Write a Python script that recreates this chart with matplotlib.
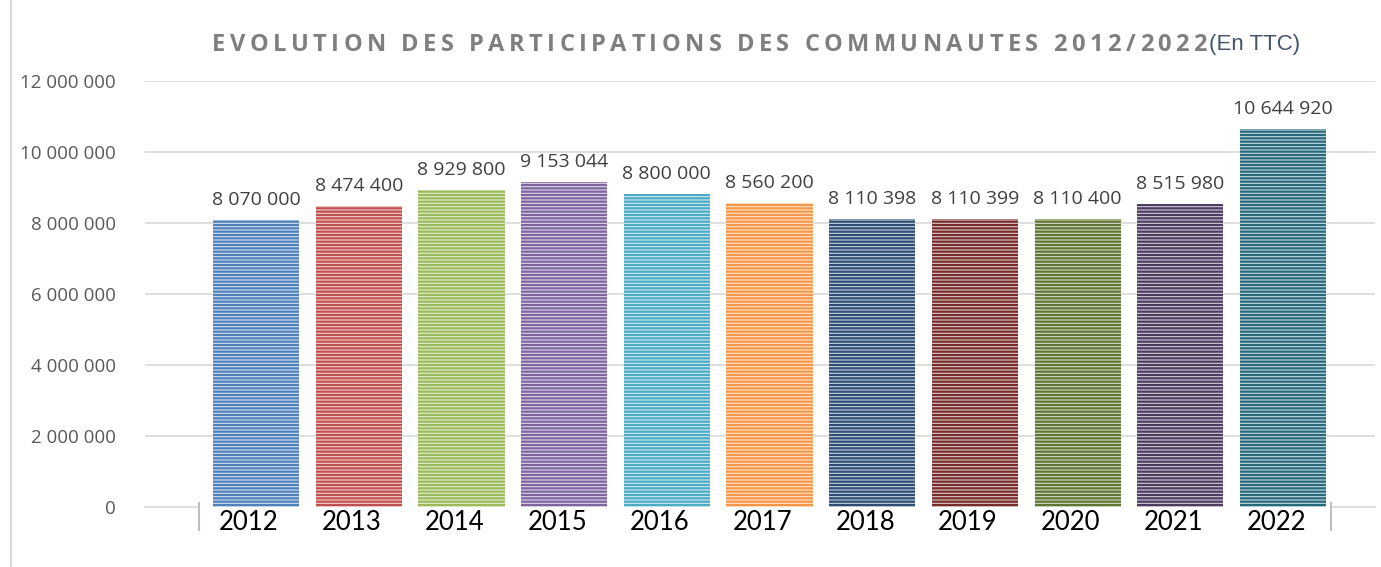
import matplotlib
matplotlib.use("Agg")
import matplotlib.pyplot as plt
import matplotlib.colors as mcolors
import matplotlib.transforms as mtransforms
from matplotlib.lines import Line2D

# data
years = ["2012", "2013", "2014", "2015", "2016", "2017", "2018", "2019", "2020", "2021", "2022"]
values = [8070000, 8474400, 8929800, 9153044, 8800000, 8560200,
          8110398, 8110399, 8110400, 8515980, 10644920]
bar_colors = ["#4F81BD", "#C0504D", "#9BBB59", "#8064A2", "#4BACC6", "#F79646",
              "#2C4D75", "#772C2A", "#5F7530", "#4D3B62", "#276A7C"]
y_ticks = [0, 2000000, 4000000, 6000000, 8000000, 10000000, 12000000]
title = "EVOLUTION DES PARTICIPATIONS DES COMMUNAUTES 2012/2022"


def fmt(v):
    return f"{v:,}".replace(",", " ")


def tint(c, amount=0.74):
    r, g, b = mcolors.to_rgb(c)
    return (r + (1 - r) * amount, g + (1 - g) * amount, b + (1 - b) * amount)


plt.rcParams["hatch.linewidth"] = 1.6
fig = plt.figure(figsize=(13.81, 5.67), dpi=100)
ax = fig.add_axes([0.105, 0.1063, 0.8907, 0.7513])

x = list(range(len(years)))
bars = ax.bar(x, values, width=0.84, color=[tint(c) for c in bar_colors],
              edgecolor=bar_colors, linewidth=0, hatch="-----", zorder=3)

ax.bar_label(bars, labels=[fmt(v) for v in values], padding=8,
             fontsize=14, color="#404040", family="Open Sans")

ax.set_ylim(0, 12000000)
ax.set_xlim(-1.081, 10.896)
ax.set_yticks(y_ticks)
ax.set_yticklabels([fmt(v) for v in y_ticks], fontsize=13.5, color="#595959",
                   family="Open Sans")
ax.tick_params(axis="y", length=0, pad=21)
ax.set_xticks(x)
ax.set_xticklabels(years, fontsize=18.5, color="black", family="Lato")
ax.tick_params(axis="x", length=0, pad=2)
# year labels sit a little left of the bar centres in the reference
shift = mtransforms.ScaledTranslation(-7 / 100, 0, fig.dpi_scale_trans)
for lab in ax.get_xticklabels():
    lab.set_transform(lab.get_transform() + shift)

for v in y_ticks[1:]:
    ax.axhline(v, color="#D9D9D9", lw=1.2, zorder=1)
for side in ax.spines.values():
    side.set_visible(False)

# zero line only outside the category band, with the end ticks
ax.plot([-1.081, -0.56], [0, 0], color="#D9D9D9", lw=1.2, clip_on=False)
ax.plot([10.47, 10.896], [0, 0], color="#D9D9D9", lw=1.2, clip_on=False)
trans = ax.get_xaxis_transform()
for xe in (-0.56, 10.47):
    ax.plot([xe, xe], [0.008, -0.055], color="#BFBFBF", lw=1.5,
            transform=trans, clip_on=False)

# title with wide letter spacing: place each character, spread over a target width
fig.canvas.draw()
renderer = fig.canvas.get_renderer()
W = fig.bbox.width
x_start, x_end, y_title = 212, 1207, 0.921
tsize = 17
chars = []
for ch in title:
    t = fig.text(0, y_title, ch, fontsize=tsize, fontweight="bold",
                 color="#7F7F7F", family="Open Sans", va="center")
    chars.append(t)
widths = []
for t in chars:
    if t.get_text() == " ":
        widths.append(tsize * 0.26 * 100 / 72)
    else:
        widths.append(t.get_window_extent(renderer).width)
track = (x_end - x_start - sum(widths)) / (len(chars) - 1)
pos = x_start
for t, w in zip(chars, widths):
    t.set_x(pos / W)
    pos += w + track
fig.text((x_end + 2) / W, y_title, "(En TTC)", fontsize=16, color="#44546A",
         family="Liberation Sans", va="center")

# left border of the chart area
fig.add_artist(Line2D([0.008, 0.008], [0, 1], color="#D9D9D9", lw=1.5))

fig.savefig("out.png", dpi=100)
